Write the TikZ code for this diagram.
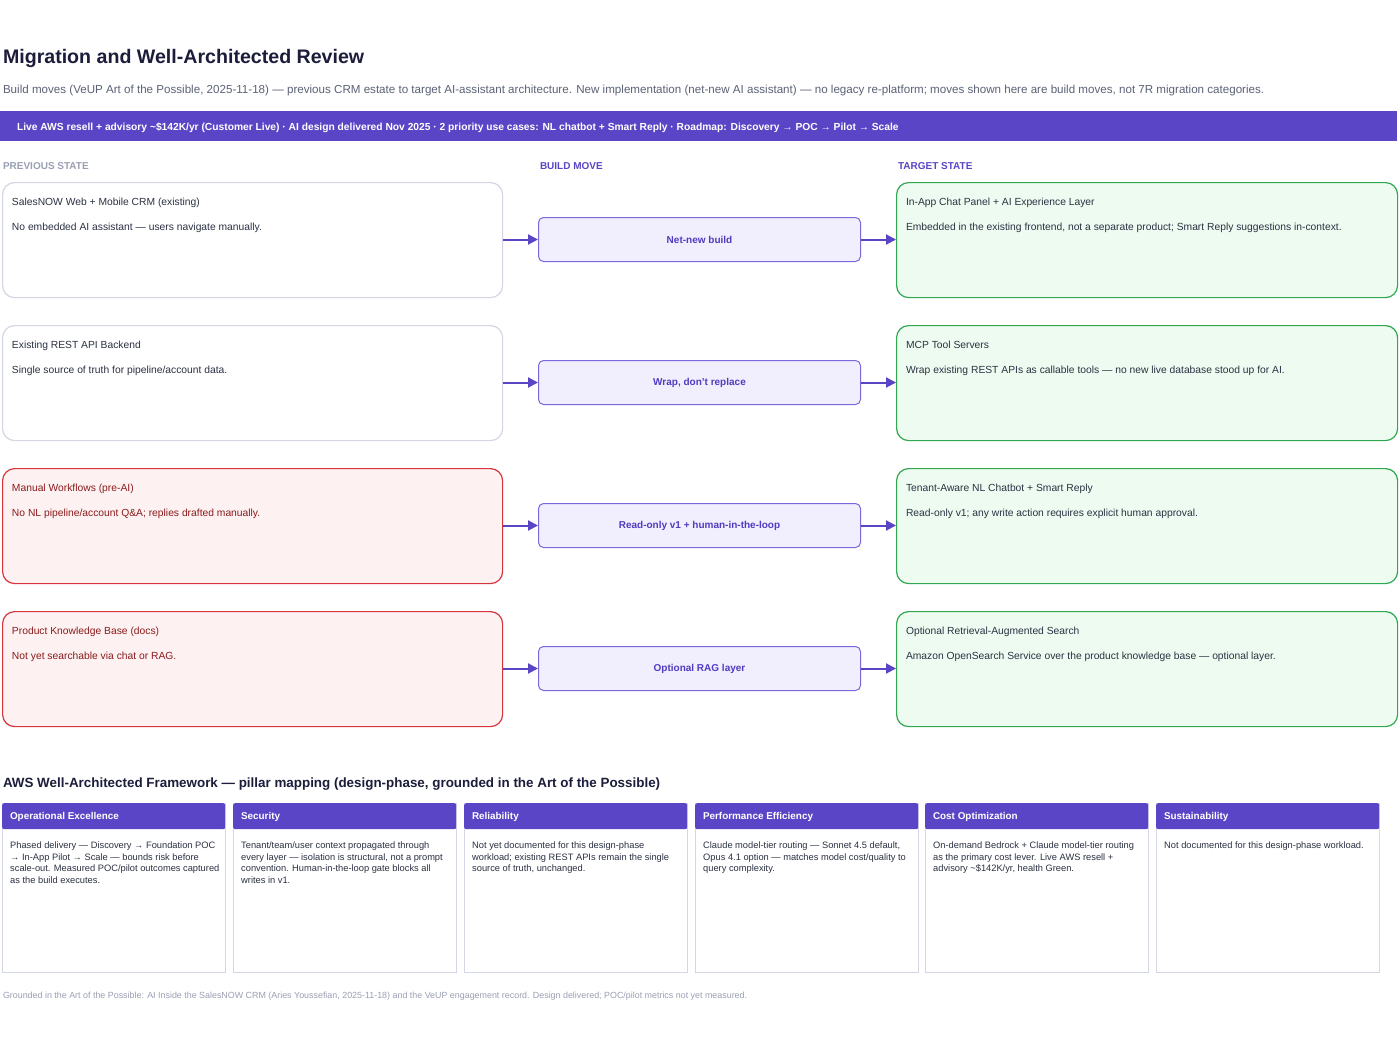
\documentclass[tikz,border=0pt]{standalone}
\usepackage{fontspec}
\setmainfont{Liberation Sans}
\usetikzlibrary{arrows.meta}
\definecolor{indigo}{HTML}{5A45C6}
\definecolor{navy}{HTML}{1B1D3A}
\definecolor{subgray}{HTML}{5B6275}
\definecolor{lightgray}{HTML}{9AA0B2}
\definecolor{boxgray}{HTML}{D3D6E4}
\definecolor{redline}{HTML}{D8343C}
\definecolor{redfill}{HTML}{FDF1F2}
\definecolor{redtext}{HTML}{8A1B1B}
\definecolor{midfill}{HTML}{F1EEFD}
\definecolor{midline}{HTML}{7B68DD}
\definecolor{midtext}{HTML}{4F3CC0}
\definecolor{greenline}{HTML}{2FA84F}
\definecolor{greenfill}{HTML}{EEFBF1}
\definecolor{darktext}{HTML}{2B3142}
\tikzset{
  txt/.style={anchor=base west, inner sep=0pt, outer sep=0pt},
  bigbox/.style={anchor=north west, minimum width=500pt, minimum height=115pt, rounded corners=12pt, line width=1.2pt, inner sep=0pt},
  grayrow/.style={bigbox, draw=boxgray, fill=white},
  redrow/.style={bigbox, draw=redline, fill=redfill},
  greenrow/.style={bigbox, draw=greenline, fill=greenfill, minimum width=501pt},
  movebox/.style={anchor=north west, minimum width=322pt, minimum height=44pt, rounded corners=5pt, line width=1pt, draw=midline, fill=midfill, inner sep=0pt, font=\fontsize{10}{12}\selectfont\bfseries, text=midtext},
  arr/.style={draw=indigo, line width=2pt, -{Triangle[length=10pt,width=10pt]}},
  boxtitle/.style={txt, font=\fontsize{10.3}{12}\selectfont},
  pillarbody/.style={anchor=north west, minimum width=223pt, minimum height=169pt, draw=boxgray, fill=white, line width=1pt, inner sep=0pt},
  pillarhead/.style={anchor=north west, minimum width=223pt, minimum height=26pt, fill=indigo, rounded corners=2pt, inner sep=0pt},
  pillarname/.style={txt, font=\fontsize{9.9}{12}\selectfont\bfseries, text=white},
  pillartext/.style={anchor=north west, inner sep=0pt, align=left, font=\fontsize{9.3}{11.4}\selectfont, text=darktext},
}
\begin{document}
\begin{tikzpicture}[x=1pt,y=-1pt]
\useasboundingbox[fill=white] (0,0) rectangle (1400,1050);

% title
\node[txt, font=\fontsize{19.6}{24}\selectfont\bfseries, text=navy] (title) at (3,63) {Migration and Well-Architected Review};
\node[txt, font=\fontsize{11.6}{14}\selectfont, text=subgray] (subtitle) at (3,93) {Build moves (VeUP Art of the Possible, 2025-11-18) — previous CRM estate to target AI-assistant architecture. New implementation (net-new AI assistant) — no legacy re-platform; moves shown here are build moves, not 7R migration categories.};

% banner
\node[anchor=north west, minimum width=1397pt, minimum height=30pt, fill=indigo, inner sep=0pt] (banner) at (0,111) {};
\node[txt, font=\fontsize{10.25}{12}\selectfont\bfseries, text=white] (bannertext) at (17,130) {Live AWS resell + advisory \textasciitilde\$142K/yr (Customer Live) · AI design delivered Nov 2025 · 2 priority use cases: NL chatbot + Smart Reply · Roadmap: Discovery → POC → Pilot → Scale};

% column headers
\node[txt, font=\fontsize{10}{12}\selectfont\bfseries, text=lightgray] (hprev) at (3,169) {PREVIOUS STATE};
\node[txt, font=\fontsize{10}{12}\selectfont\bfseries, text=indigo] (hmove) at (540,169) {BUILD MOVE};
\node[txt, font=\fontsize{10}{12}\selectfont\bfseries, text=indigo] (htarget) at (898,169) {TARGET STATE};

% row 1
\node[grayrow] (p1) at (2,182) {};
\node[movebox] (m1) at (538,217) {Net-new build};
\node[greenrow] (t1) at (896,182) {};
\node[boxtitle, text=darktext] (p1a) at (12,205) {SalesNOW Web + Mobile CRM (existing)};
\node[boxtitle, text=darktext] (p1b) at (12,230) {No embedded AI assistant — users navigate manually.};
\node[boxtitle, text=darktext] (t1a) at (906,205) {In-App Chat Panel + AI Experience Layer};
\node[boxtitle, text=darktext] (t1b) at (906,230) {Embedded in the existing frontend, not a separate product; Smart Reply suggestions in-context.};
\draw[arr] (p1.east |- m1.west) -- (m1.west);
\draw[arr] (m1.east) -- (t1.west |- m1.east);

% row 2
\node[grayrow] (p2) at (2,325) {};
\node[movebox] (m2) at (538,360) {Wrap, don't replace};
\node[greenrow] (t2) at (896,325) {};
\node[boxtitle, text=darktext] (p2a) at (12,348) {Existing REST API Backend};
\node[boxtitle, text=darktext] (p2b) at (12,373) {Single source of truth for pipeline/account data.};
\node[boxtitle, text=darktext] (t2a) at (906,348) {MCP Tool Servers};
\node[boxtitle, text=darktext] (t2b) at (906,373) {Wrap existing REST APIs as callable tools — no new live database stood up for AI.};
\draw[arr] (p2.east |- m2.west) -- (m2.west);
\draw[arr] (m2.east) -- (t2.west |- m2.east);

% row 3
\node[redrow] (p3) at (2,468) {};
\node[movebox] (m3) at (538,503) {Read-only v1 + human-in-the-loop};
\node[greenrow] (t3) at (896,468) {};
\node[boxtitle, text=redtext] (p3a) at (12,491) {Manual Workflows (pre-AI)};
\node[boxtitle, text=redtext] (p3b) at (12,516) {No NL pipeline/account Q\&A; replies drafted manually.};
\node[boxtitle, text=darktext] (t3a) at (906,491) {Tenant-Aware NL Chatbot + Smart Reply};
\node[boxtitle, text=darktext] (t3b) at (906,516) {Read-only v1; any write action requires explicit human approval.};
\draw[arr] (p3.east |- m3.west) -- (m3.west);
\draw[arr] (m3.east) -- (t3.west |- m3.east);

% row 4
\node[redrow] (p4) at (2,611) {};
\node[movebox] (m4) at (538,646) {Optional RAG layer};
\node[greenrow] (t4) at (896,611) {};
\node[boxtitle, text=redtext] (p4a) at (12,634) {Product Knowledge Base (docs)};
\node[boxtitle, text=redtext] (p4b) at (12,659) {Not yet searchable via chat or RAG.};
\node[boxtitle, text=darktext] (t4a) at (906,634) {Optional Retrieval-Augmented Search};
\node[boxtitle, text=darktext] (t4b) at (906,659) {Amazon OpenSearch Service over the product knowledge base — optional layer.};
\draw[arr] (p4.east |- m4.west) -- (m4.west);
\draw[arr] (m4.east) -- (t4.west |- m4.east);

% section heading
\node[txt, font=\fontsize{13.4}{17}\selectfont\bfseries, text=navy] (waf) at (3,787) {AWS Well-Architected Framework — pillar mapping (design-phase, grounded in the Art of the Possible)};

% pillars
\node[pillarbody] (b1) at (2,803) {};
\node[pillarhead] (h1) at (2,803) {};
\node[pillarname] (n1) at (10,819) {Operational Excellence};
\node[pillartext] (d1) at (10,842) {Phased delivery — Discovery → Foundation POC\\→ In-App Pilot → Scale — bounds risk before\\scale-out. Measured POC/pilot outcomes captured\\as the build executes.};

\node[pillarbody] (b2) at (233,803) {};
\node[pillarhead] (h2) at (233,803) {};
\node[pillarname] (n2) at (241,819) {Security};
\node[pillartext] (d2) at (241,842) {Tenant/team/user context propagated through\\every layer — isolation is structural, not a prompt\\convention. Human-in-the-loop gate blocks all\\writes in v1.};

\node[pillarbody] (b3) at (464,803) {};
\node[pillarhead] (h3) at (464,803) {};
\node[pillarname] (n3) at (472,819) {Reliability};
\node[pillartext] (d3) at (472,842) {Not yet documented for this design-phase\\workload; existing REST APIs remain the single\\source of truth, unchanged.};

\node[pillarbody] (b4) at (695,803) {};
\node[pillarhead] (h4) at (695,803) {};
\node[pillarname] (n4) at (703,819) {Performance Efficiency};
\node[pillartext] (d4) at (703,842) {Claude model-tier routing — Sonnet 4.5 default,\\Opus 4.1 option — matches model cost/quality to\\query complexity.};

\node[pillarbody] (b5) at (925,803) {};
\node[pillarhead] (h5) at (925,803) {};
\node[pillarname] (n5) at (933,819) {Cost Optimization};
\node[pillartext] (d5) at (933,842) {On-demand Bedrock + Claude model-tier routing\\as the primary cost lever. Live AWS resell +\\advisory \textasciitilde\$142K/yr, health Green.};

\node[pillarbody] (b6) at (1156,803) {};
\node[pillarhead] (h6) at (1156,803) {};
\node[pillarname] (n6) at (1164,819) {Sustainability};
\node[pillartext] (d6) at (1164,842) {Not documented for this design-phase workload.};

% footer
\node[txt, font=\fontsize{8.9}{10}\selectfont, text=lightgray] (footer) at (3,998) {Grounded in the Art of the Possible: AI Inside the SalesNOW CRM (Aries Youssefian, 2025-11-18) and the VeUP engagement record. Design delivered; POC/pilot metrics not yet measured.};
\end{tikzpicture}
\end{document}
